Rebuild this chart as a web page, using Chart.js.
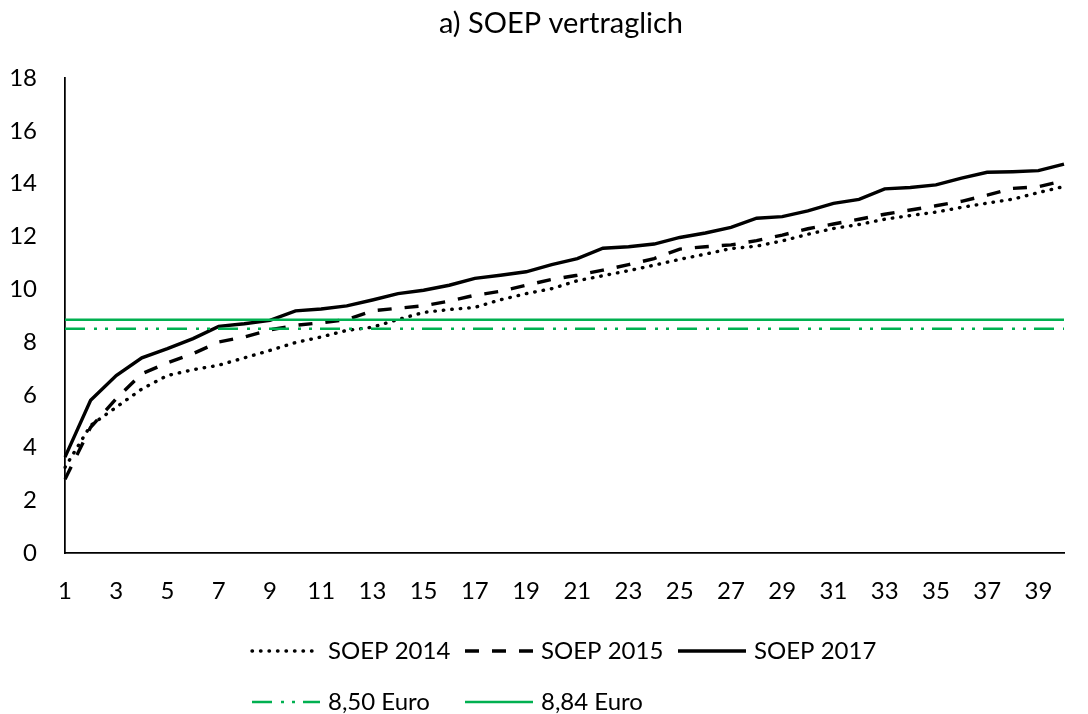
<!DOCTYPE html>
<html>
<head>
<meta charset="utf-8">
<script src="https://cdn.jsdelivr.net/npm/chart.js@4.4.1/dist/chart.umd.min.js"></script>
<style>
  html, body { margin: 0; padding: 0; background: #fff; overflow: hidden; }
</style>
</head>
<body>
<canvas id="myChart" width="1088" height="714"></canvas>
<script>
// x categories
const positions = ["1","2","3","4","5","6","7","8","9","10",
  "11","12","13","14","15","16","17","18","19","20",
  "21","22","23","24","25","26","27","28","29","30",
  "31","32","33","34","35","36","37","38","39","40"];

// series
const soep2014 = [3.25, 4.84, 5.53, 6.22, 6.73, 6.95, 7.12, 7.40, 7.68, 7.98,
  8.19, 8.44, 8.56, 8.85, 9.12, 9.23, 9.31, 9.60, 9.83, 10.02,
  10.32, 10.51, 10.70, 10.91, 11.13, 11.33, 11.54, 11.63, 11.83, 12.08,
  12.30, 12.45, 12.65, 12.79, 12.92, 13.10, 13.26, 13.41, 13.66, 13.89];

const soep2015 = [2.80, 4.77, 5.85, 6.80, 7.21, 7.56, 8.00, 8.19, 8.46, 8.63,
  8.73, 8.85, 9.18, 9.28, 9.37, 9.55, 9.77, 9.92, 10.15, 10.37,
  10.53, 10.72, 10.93, 11.16, 11.52, 11.61, 11.68, 11.84, 12.05, 12.29,
  12.47, 12.65, 12.84, 13.00, 13.16, 13.33, 13.56, 13.82, 13.88, 14.11];

const soep2017 = [3.64, 5.79, 6.73, 7.40, 7.75, 8.13, 8.59, 8.69, 8.82, 9.18,
  9.25, 9.37, 9.59, 9.83, 9.96, 10.15, 10.41, 10.53, 10.66, 10.93,
  11.16, 11.55, 11.61, 11.71, 11.96, 12.13, 12.34, 12.69, 12.75, 12.97,
  13.25, 13.40, 13.80, 13.85, 13.95, 14.21, 14.43, 14.45, 14.49, 14.74];

// minimum wage levels
const wage850 = 8.50;
const wage884 = 8.84;

const yTicks = [0, 2, 4, 6, 8, 10, 12, 14, 16, 18];

const chartTitle = "a) SOEP vertraglich";

Chart.defaults.font.family = "Lato";
Chart.defaults.color = "#000";

const green = "#00B050";

// legend drawn by hand so rows line up like in the original
const legendLayout = [
  { ds: 0, x: 252, y: 651 },
  { ds: 1, x: 465, y: 651 },
  { ds: 2, x: 678, y: 651 },
  { ds: 3, x: 252, y: 702 },
  { ds: 4, x: 465, y: 702 },
];

const titleAndLegend = {
  id: "titleAndLegend",
  afterDraw(chart) {
    const ctx = chart.ctx;
    ctx.save();
    ctx.fillStyle = "#000";
    ctx.textBaseline = "middle";

    // title
    ctx.font = "29px Lato";
    ctx.textAlign = "center";
    ctx.fillText(chartTitle, 561, 24);

    // legend
    ctx.font = "24px Lato";
    ctx.textAlign = "left";
    legendLayout.forEach((item) => {
      const ds = chart.data.datasets[item.ds];
      ctx.save();
      ctx.strokeStyle = ds.borderColor;
      ctx.lineWidth = ds.borderWidth;
      ctx.setLineDash(ds.borderDash || []);
      ctx.lineCap = ds.borderCapStyle || "butt";
      ctx.beginPath();
      ctx.moveTo(item.x, item.y);
      ctx.lineTo(item.x + 68, item.y);
      ctx.stroke();
      ctx.restore();
      ctx.fillText(ds.label, item.x + 76, item.y);
    });
    ctx.restore();
  },
};

const ctx = document.getElementById("myChart");
const chart = new Chart(ctx, {
  type: "line",
  data: {
    labels: positions,
    datasets: [
      {
        label: "SOEP 2014",
        data: soep2014,
        borderColor: "#000",
        borderWidth: 3.4,
        borderDash: [0.5, 8],
        borderCapStyle: "round",
        order: 3,
      },
      {
        label: "SOEP 2015",
        data: soep2015,
        borderColor: "#000",
        borderWidth: 3.4,
        borderDash: [14, 13],
        order: 2,
      },
      {
        label: "SOEP 2017",
        data: soep2017,
        borderColor: "#000",
        borderWidth: 3.4,
        order: 1,
      },
      {
        label: "8,50 Euro",
        data: [{ x: positions[0], y: wage850 }, { x: positions[positions.length - 1], y: wage850 }],
        borderColor: green,
        borderWidth: 2.5,
        borderDash: [20, 9, 3, 8, 3, 8],
        order: 0,
      },
      {
        label: "8,84 Euro",
        data: [{ x: positions[0], y: wage884 }, { x: positions[positions.length - 1], y: wage884 }],
        borderColor: green,
        borderWidth: 2.5,
        order: 0,
      },
    ],
  },
  options: {
    responsive: false,
    animation: false,
    devicePixelRatio: 1,
    layout: { padding: { left: 0, right: 0, top: 78, bottom: 84 } },
    elements: {
      point: { radius: 0, hoverRadius: 0 },
      line: { tension: 0, fill: false },
    },
    plugins: {
      legend: { display: false },
      tooltip: { enabled: false },
      title: { display: false },
    },
    scales: {
      x: {
        offset: false,
        grid: { display: false, drawTicks: false },
        border: { display: true, color: "#000", width: 1.75 },
        ticks: {
          autoSkip: false,
          maxRotation: 0,
          padding: 24,
          font: { size: 24 },
          callback: (value, index) => (index % 2 === 0 ? positions[index] : ""),
        },
      },
      y: {
        min: yTicks[0],
        max: yTicks[yTicks.length - 1],
        afterFit: (scale) => { scale.width = 65; },
        afterBuildTicks: (scale) => { scale.ticks = yTicks.map((v) => ({ value: v })); },
        grid: { display: false, drawTicks: false },
        border: { display: true, color: "#000", width: 1.75 },
        ticks: {
          padding: 28,
          font: { size: 24 },
        },
      },
    },
  },
  plugins: [titleAndLegend],
});
</script>
</body>
</html>
